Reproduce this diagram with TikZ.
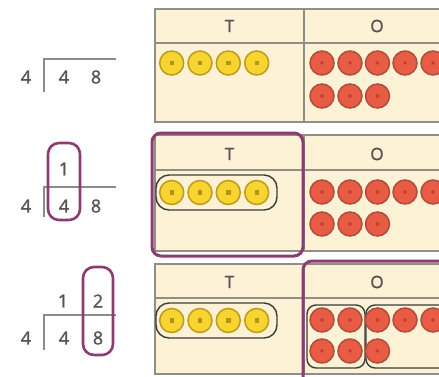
\documentclass[tikz,border=0pt]{standalone}
\usepackage{fontspec}
\setmainfont{Open Sans}
\newfontfamily\digf{Open Sans}[FakeBold=1.3]
\definecolor{cream}{HTML}{FDF2D5}
\definecolor{tblline}{HTML}{8F8F85}
\definecolor{purp}{HTML}{8C3C72}
\definecolor{dgray}{HTML}{555555}
\definecolor{ylw}{HTML}{F7D531}
\definecolor{ylwd}{HTML}{C09A1C}
\definecolor{ylwc}{HTML}{B98F14}
\definecolor{rd}{HTML}{E85B45}
\definecolor{rdd}{HTML}{B04E3C}
\definecolor{rdc}{HTML}{C23A2A}
\definecolor{grp}{HTML}{3C3C3C}
\begin{document}
\begin{tikzpicture}[x=1pt,y=-1pt,
  tbl/.style={draw=tblline, line width=1.3pt, fill=cream},
  tblln/.style={draw=tblline, line width=1.3pt},
  digit/.style={text=dgray, inner sep=0pt, font=\digf\fontsize{18}{20}\selectfont},
  hdr/.style={text=dgray, inner sep=0pt, font=\digf\fontsize{17}{19}\selectfont},
  divln/.style={draw=gray!90, line width=1.9pt},
  pbox/.style={draw=purp, line width=2.6pt, rounded corners=11pt},
  tbox/.style={draw=purp, line width=3pt, rounded corners=9pt},
  gbox/.style={draw=grp, line width=1.4pt, rounded corners=13pt},
  ycnt/.style={circle, minimum size=24pt, inner sep=0pt, fill=ylw, draw=ylwd, line width=1.5pt,
    path picture={\fill[ylwc] ([shift={(-2.2pt,-2.2pt)}]path picture bounding box.center) rectangle ([shift={(2.2pt,2.2pt)}]path picture bounding box.center);}},
  rcnt/.style={circle, minimum size=24pt, inner sep=0pt, fill=rd, draw=rdd, line width=1.5pt,
    path picture={\fill[rdc] (path picture bounding box.center) circle (1.8pt);}}
]
\useasboundingbox (0,0) rectangle (439,376);
\clip (0,0) rectangle (439,376);
\fill[white] (0,0) rectangle (439,376);

% ---------- division 1 ----------
\node[digit] (a1) at (26,77) {4};
\node[digit] (a2) at (64,77) {4};
\node[digit] (a3) at (96,77) {8};
\draw[divln] (44,92) -- (44,59) -- (116,59);

% ---------- division 2 ----------
\node[digit] (b1) at (26,206) {4};
\node[digit] (b2) at (64,206) {4};
\node[digit] (b3) at (96,206) {8};
\node[digit] (b4) at (64,169) {1};
\draw[divln] (44,217) -- (44,187) -- (116,187);
\draw[pbox] (48,143) rectangle (80,220);

% ---------- division 3 ----------
\node[digit] (c1) at (26,338) {4};
\node[digit] (c2) at (64,338) {4};
\node[digit] (c3) at (98,338) {8};
\node[digit] (c4) at (63,301) {1};
\node[digit] (c5) at (98,301) {2};
\draw[divln] (44,350) -- (44,315) -- (116,315);
\draw[pbox] (83,267) rectangle (113,355);

% ---------- table 1 ----------
\draw[tbl] (155,9) rectangle (480,122);
\draw[tblln] (155,43) -- (480,43) (304,9) -- (304,122);
\node[hdr] (t1T) at (229.5,26) {T};
\node[hdr] (t1O) at (377,26) {O};
\foreach \i/\x in {1/171.7,2/200,3/228.3,4/256.7}
  \node[ycnt] (t1y\i) at (\x,63) {};
\foreach \i/\x in {1/322,2/350,3/377.5,4/405,5/433}
  \node[rcnt] (t1r\i) at (\x,63) {};
\foreach \i/\x in {1/322,2/350,3/377.5}
  \node[rcnt] (t1s\i) at (\x,96) {};

% ---------- table 2 ----------
\draw[tbl] (155,135) rectangle (480,251);
\draw[tblln] (155,170) -- (480,170) (304,135) -- (304,251);
\node[hdr] (t2T) at (229.5,154) {T};
\node[hdr] (t2O) at (377,154) {O};
\draw[gbox] (156,175) rectangle (277,210);
\foreach \i/\x in {1/171.7,2/200,3/228.3,4/256.7}
  \node[ycnt] (t2y\i) at (\x,192.5) {};
\foreach \i/\x in {1/322,2/350,3/377.5,4/405,5/433}
  \node[rcnt] (t2r\i) at (\x,192) {};
\foreach \i/\x in {1/322,2/350,3/377.5}
  \node[rcnt] (t2s\i) at (\x,224) {};
\draw[tbox] (152,133) rectangle (303,256);

% ---------- table 3 ----------
\draw[tbl] (155,264) rectangle (480,374);
\draw[tblln] (155,298) -- (480,298) (304,264) -- (304,374);
\node[hdr] (t3T) at (229.5,282) {T};
\node[hdr] (t3O) at (377,282) {O};
\draw[gbox] (156,303) rectangle (277,338);
\foreach \i/\x in {1/171.7,2/200,3/228.3,4/256.7}
  \node[ycnt] (t3y\i) at (\x,320.5) {};
\draw[gbox, rounded corners=9pt] (307,305) rectangle (365,368);
\draw[gbox, rounded corners=9pt] (366,305) rectangle (480,368);
\foreach \i/\x in {1/322,2/350,3/377.5,4/405,5/433}
  \node[rcnt] (t3r\i) at (\x,320) {};
\foreach \i/\x in {1/322,2/350,3/377.5}
  \node[rcnt] (t3s\i) at (\x,351) {};
\draw[tbox] (303,261) rectangle (480,400);
\end{tikzpicture}
\end{document}
